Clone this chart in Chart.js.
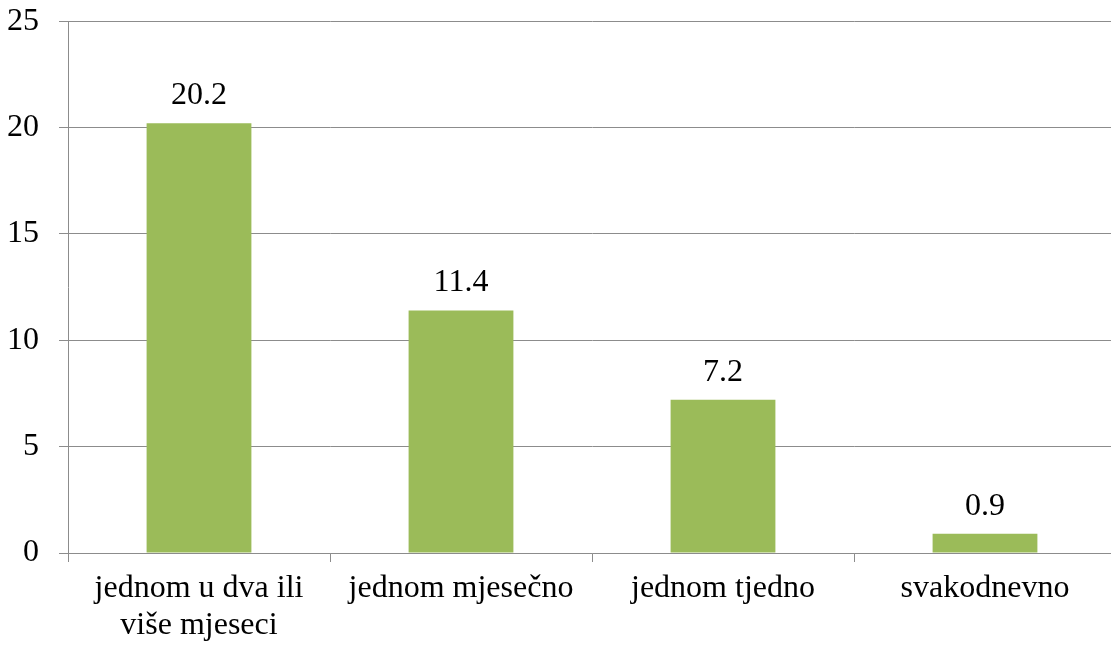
<!DOCTYPE html>
<html>
<head>
<meta charset="utf-8">
<script src="https://cdn.jsdelivr.net/npm/chart.js@4"></script>
<style>
  html, body { margin: 0; padding: 0; background: #fff; overflow: hidden; }
  #wrap { width: 1116px; height: 663px; margin-top: -18px; }
</style>
</head>
<body>
<div id="wrap"><canvas id="freqChart"></canvas></div>
<script>
// podaci
const categories = [['jednom u dva ili', 'više mjeseci'], 'jednom mjesečno', 'jednom tjedno', 'svakodnevno'];
const values = [20.2, 11.4, 7.2, 0.9];
const yTicks = [0, 5, 10, 15, 20, 25];

const fontFamily = '"Liberation Serif", "Times New Roman", serif';

// oznake vrijednosti iznad stupaca
const valueLabels = {
    id: 'valueLabels',
    afterDatasetsDraw(chart) {
        const ctx = chart.ctx;
        const meta = chart.getDatasetMeta(0);
        ctx.save();
        ctx.font = '32px ' + fontFamily;
        ctx.fillStyle = '#000';
        ctx.textAlign = 'center';
        ctx.textBaseline = 'alphabetic';
        meta.data.forEach((bar, i) => {
            ctx.fillText(values[i].toFixed(1), bar.x, bar.y - 19);
        });
        ctx.restore();
    }
};

const ctx = document.getElementById('freqChart').getContext('2d');
const freqChart = new Chart(ctx, {
    type: 'bar',
    data: {
        labels: categories,
        datasets: [{
            data: values,
            backgroundColor: '#9BBB59',
            barPercentage: 0.4,
            categoryPercentage: 1
        }]
    },
    options: {
        responsive: true,
        maintainAspectRatio: false,
        animation: false,
        layout: { padding: { top: 0, right: 0, left: 0, bottom: 0 } },
        plugins: {
            legend: { display: false },
            tooltip: { enabled: false }
        },
        scales: {
            x: {
                offset: true,
                grid: {
                    offset: true,
                    drawOnChartArea: false,
                    color: '#8c8c8c',
                    tickLength: 9
                },
                border: { color: '#8c8c8c' },
                ticks: {
                    color: '#000',
                    font: { family: fontFamily, size: 32, lineHeight: 1.15 },
                    maxRotation: 0,
                    autoSkip: false,
                    padding: 8
                },
                afterFit(scale) { scale.height = 92; }
            },
            y: {
                min: 0,
                max: 25,
                afterBuildTicks(scale) { scale.ticks = yTicks.map(v => ({ value: v })); },
                grid: {
                    color: '#8c8c8c',
                    tickLength: 9
                },
                border: { color: '#8c8c8c' },
                ticks: {
                    color: '#000',
                    font: { family: fontFamily, size: 32 },
                    padding: 20
                },
                afterFit(scale) { scale.width = 68; }
            }
        }
    },
    plugins: [valueLabels]
});
</script>
</body>
</html>
